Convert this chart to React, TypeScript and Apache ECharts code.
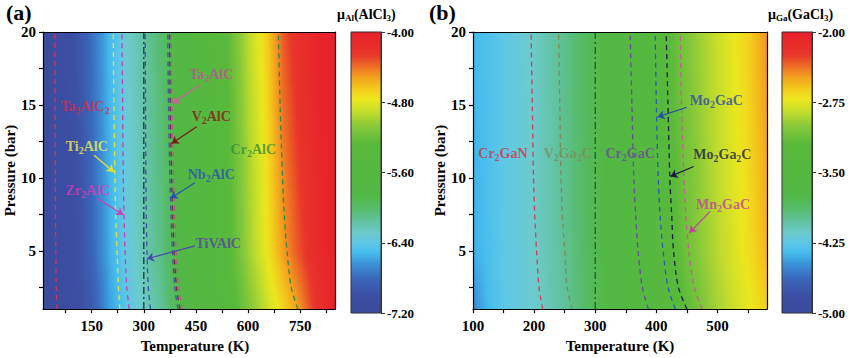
import React, { useEffect, useRef } from 'react';
import * as echarts from 'echarts';

const FONT = 'Liberation Serif';

// Colour scale: fraction of the colour bar (0 = bottom, 1 = top) -> colour
const paletteFractions = [0, 0.06, 0.12, 0.17, 0.215, 0.25, 0.285, 0.33, 0.37, 0.42, 0.6, 0.66, 0.715, 0.76, 0.8, 0.84, 0.88, 0.92, 1];
const paletteColors = ['#3b4a9c', '#3b4fa3', '#3a66ba', '#3b8fd6', '#46bdee', '#5ec7e6', '#6ccbcc', '#60c29c', '#56bc6c', '#52b845', '#58b93a', '#84c83a', '#c2dc2c', '#ece81e', '#f4c81c', '#f3a01f', '#ee6a25', '#e8352a', '#e8202a'];

// Field sampled at these pressures (bar)
const fieldPressures = [1, 5, 20];

// Panel (a): chemical potential of Al (AlCl3)
const fieldTempsA = [10, 100, 150, 200, 250, 300, 350, 400, 450, 500, 550, 600, 650, 700, 750, 800, 850];
const muA_P1 = [-7.14, -7.07, -6.91, -6.62, -6.42, -6.27, -6.14, -5.89, -5.73, -5.57, -5.36, -5.12, -4.91, -4.70, -4.48, -4.21, -4.03];
const muA_P5 = [-7.14, -7.04, -6.84, -6.57, -6.36, -6.21, -6.08, -5.84, -5.68, -5.52, -5.28, -5.02, -4.79, -4.51, -4.31, -4.12, -4.02];
const muA_P20 = [-7.14, -7.01, -6.78, -6.53, -6.30, -6.16, -6.02, -5.79, -5.63, -5.47, -5.22, -4.94, -4.69, -4.35, -4.16, -4.05, -4.01];
const cbTicksA = [-7.2, -6.4, -5.6, -4.8, -4.0];

// Panel (b): chemical potential of Ga (GaCl3)
const fieldTempsB = [100, 125, 150, 200, 250, 300, 350, 400, 450, 500, 550, 581];
const muB_P1 = [-4.52, -4.36, -4.25, -4.15, -4.01, -3.80, -3.65, -3.44, -3.17, -2.93, -2.74, -2.63];
const muB_P5 = [-4.40, -4.33, -4.25, -4.14, -3.99, -3.79, -3.62, -3.38, -3.10, -2.88, -2.69, -2.54];
const muB_P20 = [-4.37, -4.31, -4.25, -4.13, -3.97, -3.77, -3.59, -3.32, -3.04, -2.83, -2.63, -2.45];
const cbTicksB = [-5, -4.25, -3.5, -2.75, -2];

// Stability boundary curves: temperature (K) at each pressure (bar)
const curvePressures = [1, 2.5, 5, 7.5, 10, 15, 20];
const curveNamesA = ['Ta3AlC2', 'Ti2AlC', 'Zr2AlC', 'TiVAlC', 'Nb2AlC', 'V2AlC', 'Ta2AlC', 'Cr2AlC'];
const curveColorsA = ['#d8305a', '#e6e030', '#c840b0', '#3a50b0', '#3a55b0', '#7a2a2a', '#b05a90', '#2f8a4a'];
const curveTempsA = [
  [50, 48, 47, 46, 45.5, 45, 44],
  [231, 227, 223, 219, 217, 214, 212],
  [258, 251, 246, 243, 241, 239, 237],
  [319, 313, 309, 307, 306, 305, 304],
  [398, 389, 382, 378, 375, 371, 369],
  [404, 394, 387, 383, 380, 376, 374],
  [411, 400, 393, 389, 386, 381, 378],
  [743, 724, 712, 704, 699, 692, 687],
];
const curveNamesB = ['Cr2GaN', 'V2Ga2C', 'Cr2GaC', 'Mo2GaC', 'Mo2Ga2C', 'Mn2GaC'];
const curveColorsB = ['#d04058', '#7c8c58', '#6a4a9c', '#2a5ab8', '#1a1f40', '#c06098'];
const curveTempsB = [
  [214, 208, 204, 201, 199, 197, 195],
  [262, 254, 250, 246, 244, 242, 240],
  [387, 377, 370, 366, 363, 360, 357],
  [431, 419, 411, 406, 403, 400, 398],
  [450, 436, 428, 425, 422, 419, 416],
  [475, 462, 453, 448, 445, 441, 439],
];
const refTemp = 300;

// Text labels: [T, P]
const labelNamesA = ['Ta3AlC2', 'Ti2AlC', 'Zr2AlC', 'Ta2AlC', 'V2AlC', 'Nb2AlC', 'TiVAlC', 'Cr2AlC'];
const labelPosA = [[131, 14.86], [136, 12.16], [139, 9.11], [494, 17.1], [494, 14.2], [494, 10.2], [514, 5.53], [615, 11.95]];
const labelColorsA = ['#d42d50', '#f2ec50', '#d83cb8', '#c24f98', '#8b1a1a', '#2a52b0', '#5545a5', '#338f38'];
const labelNamesB = ['Cr2GaN', 'V2Ga2C', 'Cr2GaC', 'Mo2GaC', 'Mo2Ga2C', 'Mn2GaC'];
const labelPosB = [[149, 11.7], [255, 11.7], [357, 11.7], [498, 15.3], [508, 11.57], [509, 8.15]];
const labelColorsB = ['#cc3545', '#7d8d5c', '#6a4aa0', '#2a4aa8', '#1c1c44', '#c0449c'];

// Arrows: from [T, P] to [T, P]
const arrowFromA = [[157, 11.55], [165, 8.6], [462, 16.4], [452, 13.5], [447, 9.66], [447, 5.33]];
const arrowToA = [[214, 10.4], [241, 7.47], [383, 15.1], [380, 12.36], [377, 8.6], [309, 4.45]];
const arrowColorsA = ['#e6e030', '#d040b0', '#d0609e', '#7a1818', '#2a52b0', '#4a48b0'];
const arrowFromB = [[450, 14.84], [461, 10.78], [488, 7.7]];
const arrowToB = [[402, 14.17], [423, 10.1], [454, 6.23]];
const arrowColorsB = ['#2a4aa8', '#1c1c44', '#c0449c'];

function hexToRgb(h: string) {
  const n = parseInt(h.slice(1), 16);
  return [(n >> 16) & 255, (n >> 8) & 255, n & 255];
}
const paletteRgb = paletteColors.map(hexToRgb);
function colorAt(t: number) {
  const tt = Math.max(0, Math.min(1, t));
  for (let i = 0; i < paletteFractions.length - 1; i++) {
    const a = paletteFractions[i], b = paletteFractions[i + 1];
    if (tt <= b) {
      const f = (tt - a) / (b - a);
      const c0 = paletteRgb[i], c1 = paletteRgb[i + 1];
      const r = Math.round(c0[0] + (c1[0] - c0[0]) * f);
      const g = Math.round(c0[1] + (c1[1] - c0[1]) * f);
      const bl = Math.round(c0[2] + (c1[2] - c0[2]) * f);
      return `rgb(${r},${g},${bl})`;
    }
  }
  return paletteColors[paletteColors.length - 1];
}

function makeFieldRenderer(temps: number[], rows: number[][], muMin: number, muMax: number) {
  return (params: any, api: any) => {
    const band = api.value(2);
    const p0 = fieldPressures[band], p1 = fieldPressures[band + 1];
    const r0 = rows[band], r1 = rows[band + 1];
    const tMin = temps[0], tMax = temps[temps.length - 1];
    const a = api.coord([tMin, p0]);
    const b = api.coord([tMax, p1]);
    const x0 = a[0], x1 = b[0], yBot = a[1], yTop = b[1];
    const h = yBot - yTop;
    const n = Math.max(1, Math.round(h / 2));
    const children: any[] = [];
    const sub = 5;
    for (let k = 0; k < n; k++) {
      const f = (k + 0.5) / n;
      const stops: any[] = [];
      for (let i = 0; i < temps.length - 1; i++) {
        for (let s = 0; s < sub; s++) {
          const g = s / sub;
          const T = temps[i] + (temps[i + 1] - temps[i]) * g;
          const m0 = r0[i] + (r0[i + 1] - r0[i]) * g;
          const m1 = r1[i] + (r1[i + 1] - r1[i]) * g;
          const mu = m0 + (m1 - m0) * f;
          stops.push({ offset: (T - tMin) / (tMax - tMin), color: colorAt((mu - muMin) / (muMax - muMin)) });
        }
      }
      const last = temps.length - 1;
      const muL = r0[last] + (r1[last] - r0[last]) * f;
      stops.push({ offset: 1, color: colorAt((muL - muMin) / (muMax - muMin)) });
      const ys = yBot - (h * (k + 1)) / n;
      children.push({
        type: 'rect',
        shape: { x: x0, y: ys, width: x1 - x0, height: h / n + 0.8 },
        style: { fill: new echarts.graphic.LinearGradient(0, 0, 1, 0, stops) },
      });
    }
    return { type: 'group', children };
  };
}

function makeColorbarRenderer(muMin: number, muMax: number) {
  return (params: any, api: any) => {
    const a = api.coord([0, muMin]);
    const b = api.coord([1, muMax]);
    const stops = paletteFractions.map((t, i) => ({ offset: 1 - t, color: paletteColors[i] })).reverse();
    return {
      type: 'rect',
      shape: { x: a[0], y: b[1], width: b[0] - a[0], height: a[1] - b[1] },
      style: { fill: new echarts.graphic.LinearGradient(0, 0, 0, 1, stops), stroke: '#333', lineWidth: 1 },
    };
  };
}

function richName(s: string) {
  return s.replace(/(\d+)|([^\d]+)/g, (m, d) => (d ? `{s|${m}}` : `{n|${m}}`));
}

const richStyles = {
  n: { fontFamily: FONT, fontSize: 14, fontWeight: 'bold', lineHeight: 18 },
  s: { fontFamily: FONT, fontSize: 10, fontWeight: 'bold', lineHeight: 8, verticalAlign: 'bottom' },
};

const tickFont = { fontFamily: FONT, fontSize: 15, fontWeight: 'bold', color: '#000' };
const nameFont = { fontFamily: FONT, fontSize: 15, fontWeight: 'bold', color: '#000' };

function mainXAxis(grid: number, min: number, max: number, ticks: number[], labels: number[], shift: number) {
  return {
    gridIndex: grid, type: 'value', min, max, z: 10,
    axisLine: { show: true, onZero: false, lineStyle: { color: '#000', width: 1.2 } },
    axisTick: { show: true, length: 4, customValues: ticks, lineStyle: { color: '#000', width: 1.2 } },
    axisLabel: { customValues: labels, margin: 9, ...tickFont },
    splitLine: { show: false },
    name: 'Temperature (K)', nameLocation: 'middle', nameGap: 27,
    nameTextStyle: { ...nameFont, padding: [0, 0, 0, shift] },
  };
}
function borderXAxis(grid: number, min: number, max: number) {
  return {
    gridIndex: grid, type: 'value', min, max, position: 'top', z: 10,
    axisLine: { show: true, onZero: false, lineStyle: { color: '#000', width: 1.2 } },
    axisTick: { show: false }, axisLabel: { show: false }, splitLine: { show: false },
  };
}
function mainYAxis(grid: number) {
  return {
    gridIndex: grid, type: 'value', min: 1, max: 20, z: 10,
    axisLine: { show: true, onZero: false, lineStyle: { color: '#000', width: 1.2 } },
    axisTick: { show: true, length: 4, customValues: [2.5, 5, 7.5, 10, 12.5, 15, 17.5, 20], lineStyle: { color: '#000', width: 1.2 } },
    axisLabel: { customValues: [5, 10, 15, 20], margin: 7, ...tickFont },
    splitLine: { show: false },
    name: 'Pressure (bar)', nameLocation: 'middle', nameGap: 25, nameRotate: 90,
    nameTextStyle: nameFont,
  };
}
function borderYAxis(grid: number) {
  return {
    gridIndex: grid, type: 'value', min: 1, max: 20, position: 'right', z: 10,
    axisLine: { show: true, onZero: false, lineStyle: { color: '#000', width: 1.2 } },
    axisTick: { show: false }, axisLabel: { show: false }, splitLine: { show: false },
  };
}
function cbYAxis(grid: number, min: number, max: number, ticks: number[]) {
  return {
    gridIndex: grid, type: 'value', min, max, position: 'right', z: 10,
    axisLine: { show: true, onZero: false, lineStyle: { color: '#333', width: 1 } },
    axisTick: { show: true, length: 4, customValues: ticks, lineStyle: { color: '#333', width: 1 } },
    axisLabel: { customValues: ticks, margin: 6, formatter: (v: number) => v.toFixed(2), fontFamily: FONT, fontSize: 13, fontWeight: 'bold', color: '#000' },
    splitLine: { show: false },
  };
}
function cbXAxis(grid: number) {
  return { gridIndex: grid, type: 'value', min: 0, max: 1, show: false };
}

function curveSeries(xi: number, names: string[], colors: string[], temps: number[][]) {
  return names.map((nm, i) => ({
    type: 'line', name: nm, xAxisIndex: xi, yAxisIndex: xi, z: 4, silent: true,
    data: curvePressures.map((p, j) => [temps[i][j], p]),
    smooth: 0.3, showSymbol: false, symbol: 'none',
    lineStyle: { color: colors[i], width: 1.3, type: [5, 4] },
  }));
}
function refSeries(xi: number, color: string) {
  return {
    type: 'line', xAxisIndex: xi, yAxisIndex: xi, z: 4, silent: true, showSymbol: false, symbol: 'none',
    data: [[refTemp, 1], [refTemp, 20]],
    lineStyle: { color, width: 1.3, type: [7, 3, 2, 3] },
  };
}
function labelSeries(xi: number, names: string[], pos: number[][], colors: string[]) {
  return {
    type: 'scatter', xAxisIndex: xi, yAxisIndex: xi, z: 8, silent: true, symbolSize: 1,
    itemStyle: { color: 'rgba(0,0,0,0)' },
    data: names.map((nm, i) => ({ name: nm, value: pos[i], label: { color: colors[i] } })),
    label: {
      show: true, position: 'inside',
      formatter: (p: any) => richName(p.name),
      rich: richStyles,
    },
  };
}
function arrowSeries(xi: number, from: number[][], to: number[][], colors: string[]) {
  return from.map((f, i) => ({
    type: 'lines', coordinateSystem: 'cartesian2d', xAxisIndex: xi, yAxisIndex: xi, z: 7, silent: true,
    symbol: ['none', 'arrow'], symbolSize: [0, 7],
    lineStyle: { color: colors[i], width: 1.2, opacity: 1, curveness: 0 },
    data: [{ coords: [f, to[i]] }],
  }));
}

export default function App() {
  const ref = useRef<HTMLDivElement>(null);
  useEffect(() => {
    if (!ref.current) return;
    const chart = echarts.init(ref.current, undefined, { renderer: 'svg' });
    const titleRich = {
      n: { fontFamily: FONT, fontSize: 14, fontWeight: 'bold', color: '#000', lineHeight: 16 },
      s: { fontFamily: FONT, fontSize: 9, fontWeight: 'bold', color: '#000', lineHeight: 7, verticalAlign: 'bottom' },
    };
    const panelFont = { fontFamily: FONT, fontSize: 22, fontWeight: 'bold', color: '#000', lineHeight: 21 };
    const option: any = {
      animation: false,
      backgroundColor: '#fff',
      title: [
        { text: '(a)', left: 6, top: 2, padding: 0, textStyle: panelFont },
        { text: '(b)', left: 429, top: 2, padding: 0, textStyle: panelFont },
        { text: '{n|μ}{s|Al}{n|(AlCl}{s|3}{n|)}', left: 337, top: 6, padding: 0, textStyle: { rich: titleRich } },
        { text: '{n|μ}{s|Ga}{n|(GaCl}{s|3}{n|)}', left: 768, top: 6, padding: 0, textStyle: { rich: titleRich } },
      ],
      grid: [
        { left: 43, top: 32, width: 292, height: 281 },
        { left: 351, top: 32, width: 30, height: 281 },
        { left: 473, top: 32, width: 294, height: 281 },
        { left: 782, top: 32, width: 30, height: 281 },
      ],
      xAxis: [
        mainXAxis(0, 10, 850, [75, 150, 225, 300, 375, 450, 525, 600, 675, 750, 825], [150, 300, 450, 600, 750], 12),
        cbXAxis(1),
        mainXAxis(2, 100, 581, [100, 150, 200, 250, 300, 350, 400, 450, 500, 550], [100, 200, 300, 400, 500], 0),
        cbXAxis(3),
        borderXAxis(0, 10, 850),
        borderXAxis(2, 100, 581),
      ],
      yAxis: [
        mainYAxis(0),
        cbYAxis(1, -7.2, -4.0, cbTicksA),
        mainYAxis(2),
        cbYAxis(3, -5, -2, cbTicksB),
        borderYAxis(0),
        borderYAxis(2),
      ],
      series: [
        {
          type: 'custom', xAxisIndex: 0, yAxisIndex: 0, z: 1, silent: true, clip: true,
          encode: { x: 0, y: 1 },
          data: [[430, 3, 0], [430, 12, 1]],
          renderItem: makeFieldRenderer(fieldTempsA, [muA_P1, muA_P5, muA_P20], -7.2, -4.0),
        },
        {
          type: 'custom', xAxisIndex: 2, yAxisIndex: 2, z: 1, silent: true, clip: true,
          encode: { x: 0, y: 1 },
          data: [[340, 3, 0], [340, 12, 1]],
          renderItem: makeFieldRenderer(fieldTempsB, [muB_P1, muB_P5, muB_P20], -5, -2),
        },
        {
          type: 'custom', xAxisIndex: 1, yAxisIndex: 1, z: 1, silent: true,
          encode: { x: 0, y: 1 },
          data: [[0.5, -5.6]],
          renderItem: makeColorbarRenderer(-7.2, -4.0),
        },
        {
          type: 'custom', xAxisIndex: 3, yAxisIndex: 3, z: 1, silent: true,
          encode: { x: 0, y: 1 },
          data: [[0.5, -3.5]],
          renderItem: makeColorbarRenderer(-5, -2),
        },
        ...curveSeries(0, curveNamesA, curveColorsA, curveTempsA),
        ...curveSeries(2, curveNamesB, curveColorsB, curveTempsB),
        refSeries(0, '#153d33'),
        refSeries(2, '#1f5a30'),
        ...arrowSeries(0, arrowFromA, arrowToA, arrowColorsA),
        ...arrowSeries(2, arrowFromB, arrowToB, arrowColorsB),
        labelSeries(0, labelNamesA, labelPosA, labelColorsA),
        labelSeries(2, labelNamesB, labelPosB, labelColorsB),
      ],
    };
    chart.setOption(option);
    return () => chart.dispose();
  }, []);
  return <div ref={ref} style={{ position: 'fixed', left: 0, top: 0, width: 850, height: 358 }} />;
}
